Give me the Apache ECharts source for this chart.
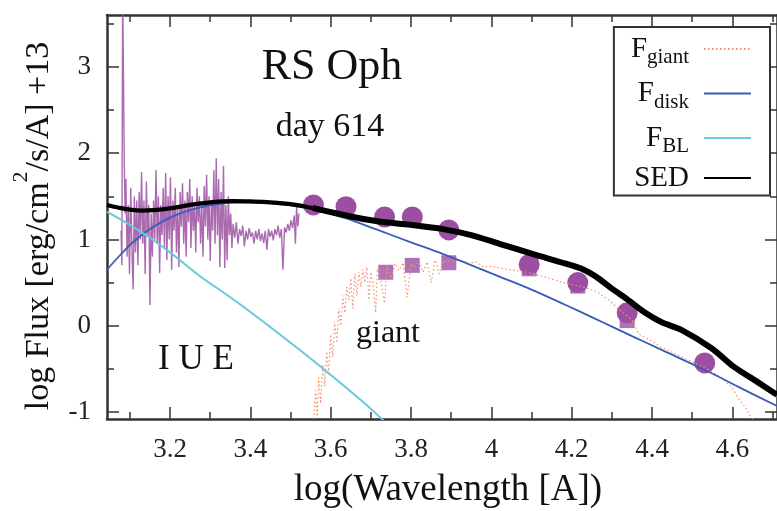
<!DOCTYPE html>
<html><head><meta charset="utf-8">
<script src="https://cdn.jsdelivr.net/npm/echarts@6/dist/echarts.min.js"></script>
<style>html,body{margin:0;padding:0;background:#fff}#c{width:777px;height:511px}</style>
</head><body><div id="c"></div>
<script>
// ---- axis ticks ----
const xMajor = [3.2, 3.4, 3.6, 3.8, 4.0, 4.2, 4.4, 4.6];
const xMinor = [3.1, 3.3, 3.5, 3.7, 3.9, 4.1, 4.3, 4.5, 4.7];
const xTickLabels = ['3.2', '3.4', '3.6', '3.8', '4', '4.2', '4.4', '4.6'];
const yMajor = [-1, 0, 1, 2, 3];
const yMinor = [-0.5, 0.5, 1.5, 2.5, 3.5];
const yTickLabels = ['-1', '0', '1', '2', '3'];

// ---- IUE spectrum ----
const iueWave = [3.078,3.080,3.082,3.084,3.086,3.088,3.090,3.093,3.096,3.099,3.102,3.105,3.108,3.111,3.114,3.117,3.120,3.123,3.126,3.129,3.132,3.135,3.138,3.141,3.144,3.147,3.150,3.153,3.156,3.159,3.162,3.165,3.168,3.171,3.174,3.177,3.180,3.183,3.186,3.189,3.192,3.195,3.198,3.201,3.204,3.207,3.210,3.213,3.216,3.219,3.222,3.225,3.228,3.231,3.234,3.237,3.240,3.243,3.246,3.249,3.252,3.255,3.258,3.261,3.264,3.267,3.270,3.273,3.276,3.279,3.282,3.285,3.288,3.291,3.294,3.297,3.300,3.303,3.306,3.309,3.312,3.315,3.318,3.321,3.324,3.327,3.330,3.333,3.336,3.339,3.342,3.345,3.348,3.351,3.354,3.357,3.361,3.365,3.369,3.373,3.377,3.381,3.385,3.389,3.393,3.397,3.401,3.405,3.409,3.413,3.417,3.421,3.425,3.429,3.433,3.437,3.441,3.445,3.449,3.453,3.457,3.461,3.465,3.469,3.473,3.477,3.481,3.485,3.489,3.493,3.497,3.501,3.505,3.509,3.512,3.515,3.518,3.521];
const iueFlux = [1.1,0.7,3.9,2.9,1.9,1.3,1.7,0.8,1.4,0.6,1.6,0.9,0.42,1.5,0.85,1.45,0.7,1.55,1.0,1.78,0.95,1.45,0.6,1.67,1.05,1.4,0.24,1.3,0.8,1.45,1.0,1.8,0.95,1.5,0.61,1.4,1.05,1.6,0.9,1.77,0.76,1.5,1.0,1.72,0.65,1.45,1.1,1.6,0.85,1.4,0.68,1.55,1.15,1.65,0.95,1.45,0.8,1.55,1.2,1.7,0.9,1.5,1.1,1.42,0.85,1.6,1.2,1.5,0.95,1.4,0.8,1.62,1.15,1.75,1.0,1.5,0.75,1.45,1.1,1.8,0.95,1.94,1.05,1.7,0.68,1.55,1.0,1.85,0.67,1.4,0.76,1.5,1.05,1.3,0.9,1.18,1.02,1.2,0.95,1.12,1.04,1.16,0.92,1.1,1.0,1.13,1.03,1.08,0.95,1.1,1.0,1.12,0.98,1.07,0.96,1.1,0.88,1.12,1.03,1.1,0.99,1.12,1.05,1.16,1.02,1.12,0.65,1.14,1.08,1.18,1.1,1.22,1.13,1.28,0.95,1.38,1.15,1.3];

// ---- photometry ----
const photWave = [3.557, 3.638, 3.734, 3.803, 3.894, 4.094, 4.215, 4.338, 4.531];
const photFlux = [1.40, 1.38, 1.26, 1.26, 1.11, 0.71, 0.50, 0.15, -0.43];
const giantPhotWave = [3.737, 3.803, 3.894, 4.094, 4.215, 4.338];
const giantPhotFlux = [0.62, 0.70, 0.73, 0.66, 0.46, 0.06];

// ---- model components ----
const giantWave = [3.558,3.562,3.566,3.570,3.575,3.580,3.585,3.590,3.595,3.600,3.605,3.610,3.615,3.620,3.625,3.630,3.635,3.640,3.645,3.650,3.655,3.660,3.665,3.670,3.675,3.680,3.685,3.690,3.695,3.700,3.705,3.712,3.716,3.722,3.734,3.740,3.750,3.760,3.770,3.780,3.790,3.800,3.810,3.820,3.830,3.840,3.850,3.860,3.870,3.880,3.900,3.920,3.940,3.963,3.980,4.000,4.030,4.062,4.100,4.144,4.180,4.227,4.260,4.292,4.320,4.350,4.366,4.400,4.424,4.460,4.506,4.540,4.572,4.600,4.613,4.630,4.647,4.655];
const giantFlux = [-1.08,-0.75,-1.05,-0.6,-0.9,-0.45,-0.7,-0.3,-0.55,-0.1,-0.36,0.05,-0.2,0.2,0.0,0.35,0.15,0.45,0.3,0.55,0.2,0.6,0.35,0.62,0.45,0.65,0.5,0.68,0.3,0.62,0.5,0.15,0.66,0.6,0.26,0.7,0.55,0.72,0.64,0.73,0.33,0.72,0.68,0.75,0.62,0.74,0.5,0.76,0.6,0.75,0.74,0.76,0.72,0.74,0.68,0.69,0.66,0.64,0.61,0.55,0.50,0.45,0.40,0.30,0.18,0.07,-0.09,-0.18,-0.25,-0.33,-0.43,-0.51,-0.60,-0.72,-0.83,-0.93,-1.06,-1.12];

const diskWave = [3.043,3.08,3.108,3.15,3.19,3.23,3.273,3.32,3.37,3.42,3.47,3.52,3.58,3.635,3.717,3.798,3.88,3.94,4.02,4.104,4.185,4.259,4.30,4.35,4.424,4.548,4.62,4.711];
const diskFlux = [0.65,0.84,0.97,1.12,1.23,1.31,1.37,1.41,1.43,1.43,1.41,1.38,1.32,1.25,1.11,0.97,0.83,0.72,0.57,0.41,0.24,0.08,-0.01,-0.12,-0.28,-0.55,-0.72,-0.93];

const blWave = [3.043,3.10,3.15,3.20,3.273,3.35,3.42,3.52,3.60,3.68,3.725,3.76];
const blFlux = [1.32,1.17,1.02,0.85,0.58,0.33,0.09,-0.27,-0.57,-0.88,-1.07,-1.22];

const sedWave = [3.043,3.07,3.10,3.13,3.16,3.20,3.25,3.30,3.354,3.40,3.45,3.50,3.555];
const sedFlux = [1.40,1.37,1.345,1.335,1.34,1.36,1.40,1.43,1.445,1.44,1.43,1.41,1.365];
const sedRedWave = [3.555,3.635,3.717,3.798,3.88,3.95,4.02,4.104,4.185,4.23,4.26,4.30,4.34,4.383,4.424,4.474,4.548,4.605,4.662,4.711];
const sedRedFlux = [1.365,1.28,1.21,1.17,1.12,1.05,0.95,0.83,0.72,0.65,0.57,0.43,0.30,0.15,0.04,-0.05,-0.26,-0.48,-0.65,-0.80];

const X_MIN = 3.043, X_MAX = 4.711, Y_MIN = -1.08, Y_MAX = 3.6;
const SERIF = '"Liberation Serif", "DejaVu Serif", serif';
const AX = '#333';
const PURPLE = '#9c4fa2';
const tickRich = { t: { fontFamily: SERIF, fontSize: 27, color: '#222', lineHeight: 27 } };

const zip = (a, b) => a.map((v, i) => [v, b[i]]);
const lookup = (vals, labels) => v => { const i = vals.findIndex(m => Math.abs(m - v) < 1e-6); return i >= 0 ? '{t|' + labels[i] + '}' : ''; };

function xAx(pos, major, showLine) {
  return {
    type: 'value', min: X_MIN, max: X_MAX, position: pos,
    axisLine: { show: showLine, onZero: false, lineStyle: { color: AX, width: 2.5 } },
    axisTick: { show: true, inside: true, length: major ? 12 : 7, customValues: major ? xMajor : xMinor, lineStyle: { color: AX, width: 1.5 } },
    axisLabel: (major && pos === 'bottom') ? {
      show: true, customValues: xMajor, margin: 17, formatter: lookup(xMajor, xTickLabels),
      fontSize: 27, fontFamily: SERIF, color: '#222', rich: tickRich
    } : { show: false },
    splitLine: { show: false }
  };
}
function yAx(pos, major, showLine) {
  return {
    type: 'value', min: Y_MIN, max: Y_MAX, position: pos,
    axisLine: { show: showLine, onZero: false, lineStyle: { color: AX, width: 2.5 } },
    axisTick: { show: true, inside: true, length: major ? 12 : 7, customValues: major ? yMajor : yMinor, lineStyle: { color: AX, width: 1.5 } },
    axisLabel: (major && pos === 'left') ? {
      show: true, customValues: yMajor, margin: 16, formatter: lookup(yMajor, yTickLabels),
      fontSize: 27, fontFamily: SERIF, color: '#222', rich: tickRich
    } : { show: false },
    splitLine: { show: false }
  };
}

const legendText = {
  'F_giant': '{f|F}{s|giant}{g|}',
  'F_disk': '{f|F}{s|disk}{g|}',
  'F_BL': '{f|F}{s|BL}{g|}',
  'SED': '{f|SED}{g|}'
};

const chart = echarts.init(document.getElementById('c'), null, { renderer: 'canvas' });
chart.setOption({
  animation: false,
  backgroundColor: '#fff',
  grid: { left: 107, top: 15, width: 676, height: 404, containLabel: false },
  xAxis: [xAx('bottom', true, true), xAx('bottom', false, false), xAx('top', true, true), xAx('top', false, false)],
  yAxis: [yAx('left', true, true), yAx('left', false, false), yAx('right', true, true), yAx('right', false, false)],
  legend: {
    data: ['F_giant', 'F_disk', 'F_BL', 'SED'],
    orient: 'vertical', align: 'right', right: 7, top: 27,
    padding: [3, 18, 3, 17], itemGap: 6.5, itemWidth: 47, itemHeight: 14,
    borderColor: '#333', borderWidth: 2, backgroundColor: '#fff',
    selectedMode: false,
    itemStyle: { opacity: 0, borderWidth: 0 },
    formatter: n => legendText[n],
    textStyle: {
      fontFamily: SERIF, color: '#111',
      rich: {
        f: { fontFamily: SERIF, fontSize: 29, lineHeight: 36, color: '#111' },
        s: { fontFamily: SERIF, fontSize: 21, lineHeight: 19, padding: [17, 0, 0, 0], color: '#111' },
        g: { width: 10 }
      }
    }
  },
  graphic: [
    { type: 'text', x: 332, y: 67, style: { text: 'RS Oph', font: '44px "Liberation Serif"', fill: '#111', align: 'center', verticalAlign: 'middle', textAlign: 'center', textVerticalAlign: 'middle' } },
    { type: 'text', x: 330, y: 127, style: { text: 'day 614', font: '34px "Liberation Serif"', fill: '#111', align: 'center', verticalAlign: 'middle', textAlign: 'center', textVerticalAlign: 'middle' } },
    { type: 'text', x: 196, y: 360, style: { text: 'I U E', font: '35px "Liberation Serif"', fill: '#111', align: 'center', verticalAlign: 'middle', textAlign: 'center', textVerticalAlign: 'middle' } },
    { type: 'text', x: 388, y: 334, style: { text: 'giant', font: '32px "Liberation Serif"', fill: '#111', align: 'center', verticalAlign: 'middle', textAlign: 'center', textVerticalAlign: 'middle' } },
    { type: 'text', x: 448, y: 490, style: { text: 'log(Wavelength [A])', font: '37px "Liberation Serif"', fill: '#111', align: 'center', verticalAlign: 'middle', textAlign: 'center', textVerticalAlign: 'middle' } },
    { type: 'text', x: 39, y: 226, rotation: Math.PI / 2,
      style: { text: '{a|log Flux [erg/cm}{p|2}{a|/s/A] +13}', fill: '#111', align: 'center', verticalAlign: 'middle', textAlign: 'center', textVerticalAlign: 'middle',
        rich: { a: { fontFamily: SERIF, fontSize: 34, fill: '#111', color: '#111' }, p: { fontFamily: SERIF, fontSize: 22, padding: [0, 0, 36, 0], fill: '#111', color: '#111' } } } }
  ],
  series: [
    { name: 'IUE', type: 'line', data: zip(iueWave, iueFlux), showSymbol: false, symbol: 'none', silent: true,
      lineStyle: { color: PURPLE, width: 1.4, opacity: 0.85 }, z: 2 },
    { name: 'phot', type: 'scatter', data: zip(photWave, photFlux), symbol: 'circle', symbolSize: 21,
      itemStyle: { color: PURPLE, opacity: 1 }, z: 3 },
    { name: 'giantPhot', type: 'scatter', data: zip(giantPhotWave, giantPhotFlux), symbol: 'rect', symbolSize: 15,
      itemStyle: { color: PURPLE }, z: 3 },
    { name: 'F_giant', type: 'line', data: zip(giantWave, giantFlux), symbol: 'none', showSymbol: false,
      lineStyle: { color: '#f5916f', width: 1.2, type: [1.5, 2.5] }, itemStyle: { color: '#f5916f' }, z: 4 },
    { name: 'F_disk', type: 'line', data: zip(diskWave, diskFlux), symbol: 'none', smooth: 0.4,
      lineStyle: { color: '#3a5cb8', width: 1.8 }, itemStyle: { color: '#3a5cb8' }, z: 5 },
    { name: 'F_BL', type: 'line', data: zip(blWave, blFlux), symbol: 'none', smooth: 0.4,
      lineStyle: { color: '#66cad8', width: 2 }, itemStyle: { color: '#66cad8' }, z: 5 },
    { name: 'SED', type: 'line', data: zip(sedWave, sedFlux), symbol: 'none', smooth: 0.4,
      lineStyle: { color: '#000', width: 4.2 }, itemStyle: { color: '#000' }, z: 6 },
    { name: 'SED', type: 'line', data: zip(sedRedWave, sedRedFlux), symbol: 'none', smooth: 0.3,
      lineStyle: { color: '#000', width: 6 }, itemStyle: { color: '#000' }, z: 6 }
  ]
});
</script></body></html>
